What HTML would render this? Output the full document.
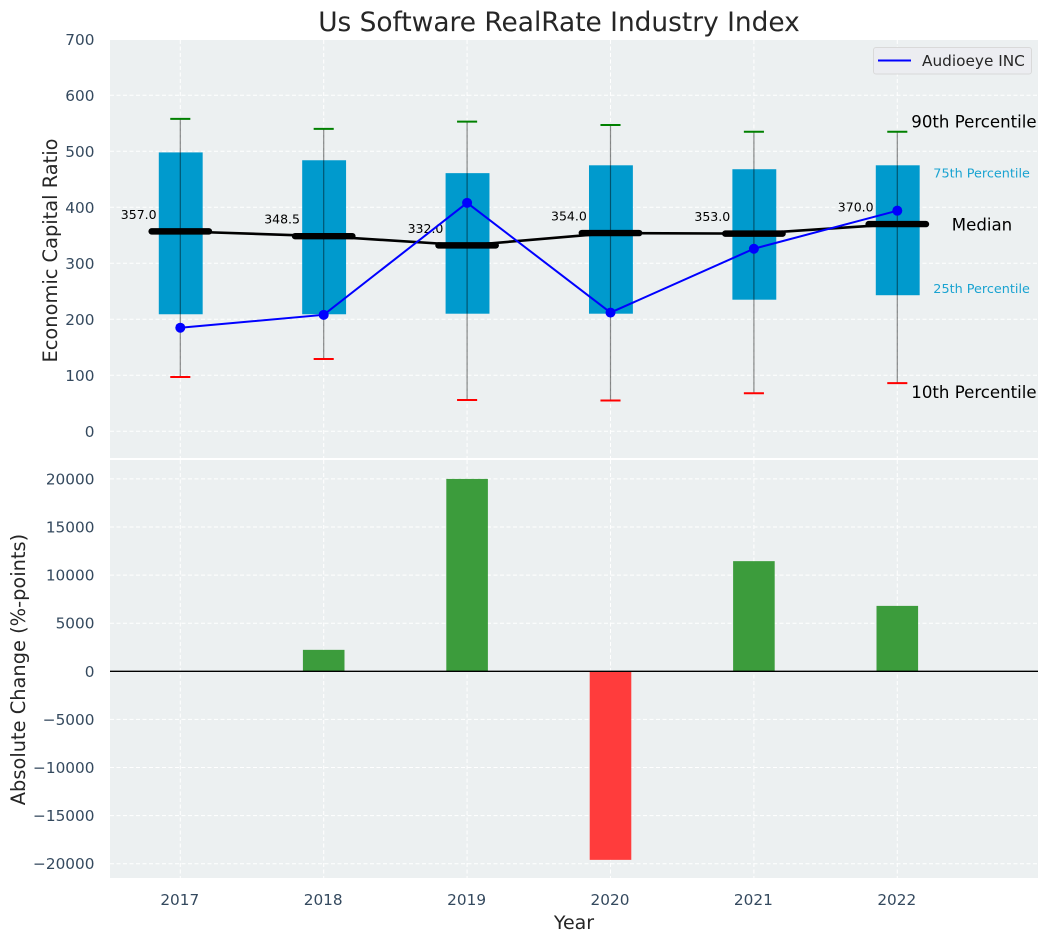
<!DOCTYPE html>
<html lang="en">
<head>
<meta charset="utf-8">
<title>Us Software RealRate Industry Index</title>
<style>
html,body{margin:0;padding:0;background:#fff;width:1048px;height:942px;overflow:hidden}
svg{display:block;font-family:"DejaVu Sans","Liberation Sans",sans-serif}
</style>
</head>
<body>
<svg id="chart" xmlns="http://www.w3.org/2000/svg" width="1048" height="942" viewBox="0 0 1048 942">
  <rect x="110" y="40" width="928" height="418" fill="#ecf0f1"/>
  <rect x="110" y="460" width="928" height="418" fill="#ecf0f1"/>
  <g id="grid"></g>
  <g id="bars"></g>
  <g id="boxes"></g>
  <g id="lines"></g>
  <g id="ticks"></g>
  <text x="559" y="31" text-anchor="middle" font-size="26.4" fill="#262626">Us Software RealRate Industry Index</text>
  <text transform="translate(57,250.5) rotate(-90)" text-anchor="middle" font-size="19.4" fill="#262626">Economic Capital Ratio</text>
  <text transform="translate(25,669.5) rotate(-90)" text-anchor="middle" font-size="19.4" fill="#262626">Absolute Change (%-points)</text>
  <text x="574" y="929" text-anchor="middle" font-size="19" fill="#262626">Year</text>
  <g>
    <rect x="873.5" y="47.5" width="158" height="26.5" rx="2.5" fill="#ecedf1" stroke="#d9d9d9"/>
    <line x1="878" x2="911" y1="60.5" y2="60.5" stroke="#0000ff" stroke-width="2"/>
    <text x="922" y="66" font-size="15.3" fill="#262626">Audioeye INC</text>
  </g>
  <g id="notes"></g>
</svg>
<script>
const years = [2017, 2018, 2019, 2020, 2021, 2022];
const p90 = [558, 540, 553, 547, 535, 535];
const p75 = [498, 484, 461, 475, 468, 475];
const medians = [357.0, 348.5, 332.0, 354.0, 353.0, 370.0];
const p25 = [209, 209, 210, 210, 235, 243];
const p10 = [97, 129, 56, 55, 68, 86];
const audioeye = [185, 208, 408, 212, 326, 394];
const changes = [0, 2230, 20000, -19600, 11450, 6800];
const topTicks = [0, 100, 200, 300, 400, 500, 600, 700];
const bottomTicks = [-20000, -15000, -10000, -5000, 0, 5000, 10000, 15000, 20000];

const NS = 'http://www.w3.org/2000/svg';
const xScale = v => 180.3 + 143.4 * (v - 2017);
const xSpan = d => 143.4 * d;
const yTop = v => 431.3 - 0.56 * v;
const yBottom = v => 671.3 - 0.00962 * v;

function make(tag, parent, attrs, text) {
  const el = document.createElementNS(NS, tag);
  for (const k in attrs) el.setAttribute(k, attrs[k]);
  if (text !== undefined) el.textContent = text;
  document.getElementById(parent).appendChild(el);
  return el;
}

let el;
const dash = '4 2.5';

years.forEach(yr => {
  el = make('line', 'grid', {x1: xScale(yr), x2: xScale(yr), y1: 40, y2: 458, stroke: '#fff', 'stroke-width': 1, 'stroke-dasharray': dash});
  
  
  el = make('line', 'grid', {x1: xScale(yr), x2: xScale(yr), y1: 460, y2: 878, stroke: '#fff', 'stroke-width': 1, 'stroke-dasharray': dash});
  
  
  el = make('text', 'ticks', {x: xScale(yr) - 0.5, y: 905, 'text-anchor': 'middle', 'font-size': 15.3, fill: '#34495e'}, String(yr));
  
  
});

topTicks.forEach(t => {
  el = make('line', 'grid', {x1: 110, x2: 1038, y1: yTop(t), y2: yTop(t), stroke: '#fff', 'stroke-width': 1, 'stroke-dasharray': dash});
  
  
  el = make('text', 'ticks', {x: 94.5, y: yTop(t) + 5.5, 'text-anchor': 'end', 'font-size': 15.3, fill: '#34495e'}, String(t));
  
  
});

bottomTicks.forEach(t => {
  el = make('line', 'grid', {x1: 110, x2: 1038, y1: yBottom(t), y2: yBottom(t), stroke: '#fff', 'stroke-width': 1, 'stroke-dasharray': dash});
  
  
  el = make('text', 'ticks', {x: 94.5, y: yBottom(t) + 5.5, 'text-anchor': 'end', 'font-size': 15.3, fill: '#34495e'}, String(t).replace('-', '\u2212'));
  
  
});

changes.forEach((c, i) => {
  const top = Math.min(yBottom(c), yBottom(0));
  const h = Math.abs(yBottom(c) - yBottom(0));
  el = make('rect', 'bars', {x: xScale(years[i]) - xSpan(0.145), y: top, width: xSpan(0.29), height: h, fill: c >= 0 ? '#3c9c3c' : '#ff3c3c'});
  
  
});

el = make('line', 'bars', {x1: 110, x2: 1038, y1: yBottom(0), y2: yBottom(0), stroke: '#000', 'stroke-width': 1.4});



years.forEach((yr, i) => {
  const cx = xScale(yr);
  el = make('rect', 'boxes', {x: cx - xSpan(0.15), y: yTop(p75[i]), width: xSpan(0.306), height: yTop(p25[i]) - yTop(p75[i]), fill: '#009acd'});
  
  
  el = make('line', 'boxes', {x1: cx, x2: cx, y1: yTop(p90[i]), y2: yTop(p10[i]), stroke: '#000', 'stroke-opacity': 0.45, 'stroke-width': 1.2});
  
  
  el = make('line', 'boxes', {x1: cx - xSpan(0.07), x2: cx + xSpan(0.07), y1: yTop(p90[i]), y2: yTop(p90[i]), stroke: '#008000', 'stroke-width': 2});
  
  
  el = make('line', 'boxes', {x1: cx - xSpan(0.07), x2: cx + xSpan(0.07), y1: yTop(p10[i]), y2: yTop(p10[i]), stroke: '#ff0000', 'stroke-width': 2});
  
  
});

el = make('polyline', 'lines', {points: years.map((yr, i) => xScale(yr) + ',' + yTop(medians[i])).join(' '), fill: 'none', stroke: '#000', 'stroke-width': 2.6});



years.forEach((yr, i) => {
  const cx = xScale(yr);
  el = make('line', 'lines', {x1: cx - xSpan(0.2), x2: cx + xSpan(0.2), y1: yTop(medians[i]), y2: yTop(medians[i]), stroke: '#000', 'stroke-width': 6.4, 'stroke-linecap': 'round'});
  
  
  el = make('text', 'lines', {x: cx - 59.5, y: yTop(medians[i]) - 12.5, 'font-size': 12.5, fill: '#000'}, medians[i].toFixed(1));
  
  
});

el = make('polyline', 'lines', {points: years.map((yr, i) => xScale(yr) + ',' + yTop(audioeye[i])).join(' '), fill: 'none', stroke: '#0000ff', 'stroke-width': 2});



years.forEach((yr, i) => {
  el = make('circle', 'lines', {cx: xScale(yr), cy: yTop(audioeye[i]), r: 5, fill: '#0000ff'});
  
  
});

const last = years.length - 1;
const lastX = xScale(years[last]);

el = make('text', 'notes', {x: lastX + 14, y: yTop(p90[last]) - 4, 'font-size': 16.6, fill: '#000'}, '90th Percentile');


el = make('text', 'notes', {x: lastX + 36, y: yTop(p75[last]) + 12, 'font-size': 12.8, fill: '#1aa3d1'}, '75th Percentile');


el = make('text', 'notes', {x: lastX + 54.5, y: yTop(medians[last]) + 6.5, 'font-size': 16.6, fill: '#000'}, 'Median');


el = make('text', 'notes', {x: lastX + 36, y: yTop(p25[last]) - 2, 'font-size': 12.8, fill: '#1aa3d1'}, '25th Percentile');


el = make('text', 'notes', {x: lastX + 14, y: yTop(p10[last]) + 15, 'font-size': 16.6, fill: '#000'}, '10th Percentile');


</script>
</body>
</html>
